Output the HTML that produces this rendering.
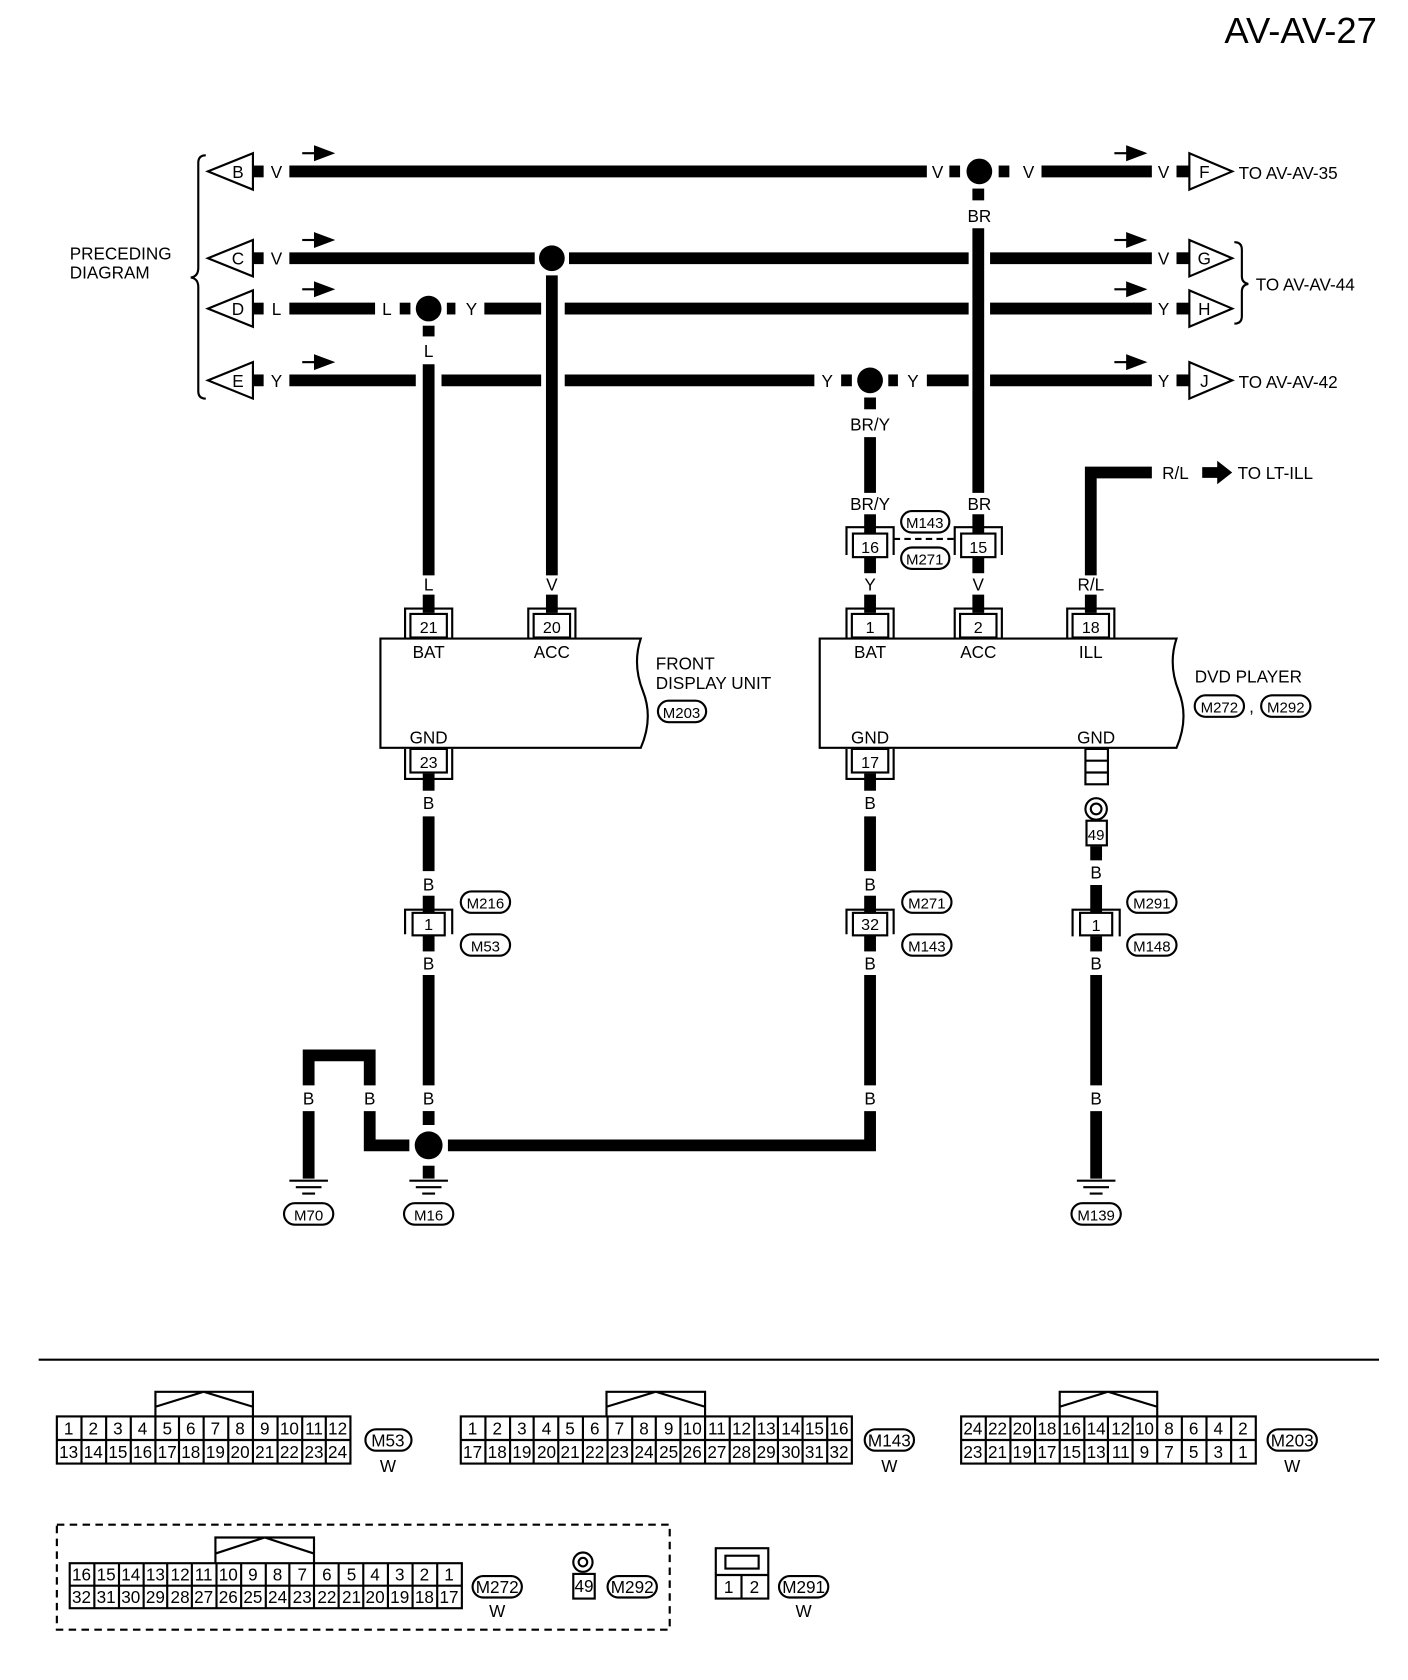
<!DOCTYPE html>
<html><head><meta charset="utf-8"><style>
html,body{margin:0;padding:0;background:#fff;}
svg{display:block;}
text{font-family:"Liberation Sans",Arial,sans-serif;font-size:16px;fill:#000;}
.c{text-anchor:middle;}
.n{font-size:15px;text-anchor:middle;}
.s{font-size:14px;text-anchor:middle;}
</style></head><body>
<svg width="1408" height="1680" viewBox="0 0 1314 1568" xmlns="http://www.w3.org/2000/svg">
<rect width="1314" height="1568" fill="#fff"/>
<text x="1285" y="40" style="font-size:34px;text-anchor:end">AV-AV-27</text>

<path d="M192,145 Q185,145 185,152 V250 Q185,258 178,259 Q185,260 185,268 V365 Q185,372 192,372" fill="none" stroke="#000" stroke-width="2"/>
<text x="65" y="242">PRECEDING</text><text x="65" y="260">DIAGRAM</text>
<path d="M1152,226 Q1159,226 1159,233 V258 Q1159,264 1165,265 Q1159,266 1159,272 V295 Q1159,302 1152,302" fill="none" stroke="#000" stroke-width="2"/>
<text x="1172" y="271">TO AV-AV-44</text>

<g fill="none" stroke="#000" stroke-width="2">
<polygon points="194,160 236,143 236,177"/><polygon points="194,241 236,224 236,258"/>
<polygon points="194,288 236,271 236,305"/><polygon points="194,355 236,338 236,372"/>
<polygon points="1110,143 1150,160 1110,177"/><polygon points="1110,224 1150,241 1110,258"/>
<polygon points="1110,271 1150,288 1110,305"/><polygon points="1110,338 1150,355 1110,372"/>
</g>
<text x="222" y="166" class="c">B</text><text x="222" y="247" class="c">C</text><text x="222" y="294" class="c">D</text><text x="222" y="361" class="c">E</text>
<text x="1124" y="166" class="c">F</text><text x="1124" y="247" class="c">G</text><text x="1124" y="294" class="c">H</text><text x="1124" y="361" class="c">J</text>
<text x="1156" y="167">TO AV-AV-35</text><text x="1156" y="362">TO AV-AV-42</text>

<g stroke="#000" stroke-width="2" fill="#000">
<line x1="282" y1="143" x2="296" y2="143"/><polygon points="294,137 310,143 294,149"/>
<line x1="282" y1="224" x2="296" y2="224"/><polygon points="294,218 310,224 294,230"/>
<line x1="282" y1="270" x2="296" y2="270"/><polygon points="294,264 310,270 294,276"/>
<line x1="282" y1="338" x2="296" y2="338"/><polygon points="294,332 310,338 294,344"/>
<line x1="1040" y1="143" x2="1054" y2="143"/><polygon points="1052,137 1068,143 1052,149"/>
<line x1="1040" y1="224" x2="1054" y2="224"/><polygon points="1052,218 1068,224 1052,230"/>
<line x1="1040" y1="270" x2="1054" y2="270"/><polygon points="1052,264 1068,270 1052,276"/>
<line x1="1040" y1="338" x2="1054" y2="338"/><polygon points="1052,332 1068,338 1052,344"/>
</g>

<g stroke="#000" stroke-width="11" fill="none">
<line x1="236" y1="160" x2="246" y2="160"/><line x1="236" y1="241" x2="246" y2="241"/>
<line x1="236" y1="288" x2="246" y2="288"/><line x1="236" y1="355" x2="246" y2="355"/>
<line x1="1098" y1="160" x2="1110" y2="160"/><line x1="1098" y1="241" x2="1110" y2="241"/>
<line x1="1098" y1="288" x2="1110" y2="288"/><line x1="1098" y1="355" x2="1110" y2="355"/>
<line x1="270" y1="160" x2="865" y2="160"/><line x1="886" y1="160" x2="896" y2="160"/>
<line x1="932" y1="160" x2="942" y2="160"/><line x1="972" y1="160" x2="1075" y2="160"/>
<line x1="270" y1="241" x2="499" y2="241"/><line x1="531" y1="241" x2="904" y2="241"/><line x1="924" y1="241" x2="1075" y2="241"/>
<line x1="270" y1="288" x2="350" y2="288"/><line x1="373" y1="288" x2="383" y2="288"/>
<line x1="417" y1="288" x2="425" y2="288"/><line x1="452" y1="288" x2="505" y2="288"/>
<line x1="527" y1="288" x2="904" y2="288"/><line x1="924" y1="288" x2="1075" y2="288"/>
<line x1="270" y1="355" x2="388" y2="355"/><line x1="412" y1="355" x2="505" y2="355"/>
<line x1="527" y1="355" x2="760" y2="355"/><line x1="785" y1="355" x2="795" y2="355"/>
<line x1="829" y1="355" x2="838" y2="355"/><line x1="865" y1="355" x2="904" y2="355"/>
<line x1="924" y1="355" x2="1075" y2="355"/>
<line x1="400" y1="304" x2="400" y2="314"/><line x1="400" y1="340" x2="400" y2="537"/><line x1="400" y1="555" x2="400" y2="572"/>
<line x1="515" y1="257" x2="515" y2="537"/><line x1="515" y1="555" x2="515" y2="572"/>
<line x1="812" y1="371" x2="812" y2="382"/><line x1="812" y1="408" x2="812" y2="460"/><line x1="812" y1="480" x2="812" y2="498"/><line x1="812" y1="520" x2="812" y2="535"/><line x1="812" y1="555" x2="812" y2="572"/>
<line x1="913" y1="176" x2="913" y2="187"/><line x1="913" y1="213" x2="913" y2="460"/><line x1="913" y1="480" x2="913" y2="498"/><line x1="913" y1="520" x2="913" y2="535"/><line x1="913" y1="555" x2="913" y2="572"/>
<polyline points="1075,441 1018,441 1018,537"/><line x1="1018" y1="555" x2="1018" y2="572"/>
<line x1="400" y1="722" x2="400" y2="738"/><line x1="400" y1="762" x2="400" y2="813"/><line x1="400" y1="836" x2="400" y2="852"/><line x1="400" y1="872" x2="400" y2="888"/><line x1="400" y1="910" x2="400" y2="1013"/><line x1="400" y1="1037" x2="400" y2="1050"/><line x1="400" y1="1088" x2="400" y2="1100"/>
<line x1="812" y1="722" x2="812" y2="738"/><line x1="812" y1="762" x2="812" y2="813"/><line x1="812" y1="836" x2="812" y2="852"/><line x1="812" y1="872" x2="812" y2="888"/><line x1="812" y1="910" x2="812" y2="1013"/>
<polyline points="812,1037 812,1069 418,1069"/>
<polyline points="288,1013 288,985 345,985 345,1013"/><polyline points="345,1037 345,1069 382,1069"/>
<line x1="288" y1="1037" x2="288" y2="1100"/>
<line x1="1023" y1="790" x2="1023" y2="803"/><line x1="1023" y1="826" x2="1023" y2="852"/><line x1="1023" y1="874" x2="1023" y2="888"/><line x1="1023" y1="910" x2="1023" y2="1013"/><line x1="1023" y1="1037" x2="1023" y2="1100"/>
</g>

<g fill="#000"><circle cx="914" cy="160" r="12"/><circle cx="515" cy="241" r="12"/><circle cx="400" cy="288" r="12"/><circle cx="812" cy="355" r="12"/><circle cx="400" cy="1069" r="13"/></g>

<text x="258" y="166" class="c">V</text><text x="875" y="166" class="c">V</text><text x="960" y="166" class="c">V</text><text x="1086" y="166" class="c">V</text>
<text x="258" y="247" class="c">V</text><text x="1086" y="247" class="c">V</text>
<text x="258" y="294" class="c">L</text><text x="361" y="294" class="c">L</text><text x="440" y="294" class="c">Y</text><text x="1086" y="294" class="c">Y</text>
<text x="258" y="361" class="c">Y</text><text x="772" y="361" class="c">Y</text><text x="852" y="361" class="c">Y</text><text x="1086" y="361" class="c">Y</text>
<text x="914" y="207" class="c">BR</text><text x="400" y="333" class="c">L</text><text x="812" y="402" class="c">BR/Y</text>
<text x="812" y="476" class="c">BR/Y</text><text x="914" y="476" class="c">BR</text>
<text x="1097" y="447" class="c">R/L</text>
<polygon points="1122,436 1136,436 1136,430 1150,441 1136,452 1136,446 1122,446" fill="#000"/>
<text x="1155" y="447">TO LT-ILL</text>
<text x="400" y="551" class="c">L</text><text x="515" y="551" class="c">V</text><text x="812" y="551" class="c">Y</text><text x="913" y="551" class="c">V</text><text x="1018" y="551" class="c">R/L</text>
<text x="400" y="755" class="c">B</text><text x="400" y="831" class="c">B</text><text x="400" y="905" class="c">B</text><text x="400" y="1031" class="c">B</text>
<text x="812" y="755" class="c">B</text><text x="812" y="831" class="c">B</text><text x="812" y="905" class="c">B</text><text x="812" y="1031" class="c">B</text>
<text x="1023" y="820" class="c">B</text><text x="1023" y="905" class="c">B</text><text x="1023" y="1031" class="c">B</text>
<text x="288" y="1031" class="c">B</text><text x="345" y="1031" class="c">B</text>

<g fill="#fff" stroke="#000" stroke-width="2">
<path d="M378,596 V568 H422 V596" fill="none"/><rect x="383" y="573" width="34" height="22"/>
<path d="M493,596 V568 H537 V596" fill="none"/><rect x="498" y="573" width="34" height="22"/>
<path d="M790,596 V568 H834 V596" fill="none"/><rect x="795" y="573" width="34" height="22"/>
<path d="M891,596 V568 H935 V596" fill="none"/><rect x="896" y="573" width="34" height="22"/>
<path d="M996,596 V568 H1040 V596" fill="none"/><rect x="1001" y="573" width="34" height="22"/>
<path d="M790,518 V492 H834 V518" fill="none"/><rect x="796" y="498" width="32" height="22"/>
<path d="M891,518 V492 H935 V518" fill="none"/><rect x="897" y="498" width="32" height="22"/>
<path d="M378,699 V727 H422 V699" fill="none"/><rect x="383" y="699" width="34" height="22"/>
<path d="M790,699 V727 H834 V699" fill="none"/><rect x="795" y="699" width="34" height="22"/>
<path d="M378,872 V849 H422 V872" fill="none"/><rect x="385" y="852" width="30" height="21"/>
<path d="M790,872 V849 H834 V872" fill="none"/><rect x="796" y="852" width="32" height="21"/>
<path d="M1001,874 V849 H1045 V874" fill="none"/><rect x="1008" y="852" width="30" height="21"/>
<rect x="1013" y="699" width="21" height="33"/><line x1="1013" y1="710" x2="1034" y2="710"/><line x1="1013" y1="721" x2="1034" y2="721"/>
<circle cx="1023" cy="755" r="10"/><circle cx="1023" cy="755" r="5"/>
<rect x="1014" y="766" width="19" height="23"/>
</g>
<line x1="834" y1="503" x2="891" y2="503" stroke="#000" stroke-width="2" stroke-dasharray="6,4"/>
<text x="400" y="591" class="n">21</text><text x="515" y="591" class="n">20</text><text x="812" y="591" class="n">1</text><text x="913" y="591" class="n">2</text><text x="1018" y="591" class="n">18</text>
<text x="812" y="516" class="n">16</text><text x="913" y="516" class="n">15</text>
<text x="400" y="717" class="n">23</text><text x="812" y="717" class="n">17</text>
<text x="400" y="868" class="n">1</text><text x="812" y="868" class="n">32</text><text x="1023" y="869" class="n">1</text>
<text x="1023" y="784" class="s">49</text>

<path d="M355,596 H598 Q590,620 600,645 Q610,670 598,698 H355 Z" fill="none" stroke="#000" stroke-width="2"/>
<path d="M765,596 H1098 Q1090,620 1100,645 Q1110,670 1098,698 H765 Z" fill="none" stroke="#000" stroke-width="2"/>
<text x="400" y="614" class="c">BAT</text><text x="515" y="614" class="c">ACC</text><text x="400" y="694" class="c">GND</text>
<text x="812" y="614" class="c">BAT</text><text x="913" y="614" class="c">ACC</text><text x="1018" y="614" class="c">ILL</text>
<text x="812" y="694" class="c">GND</text><text x="1023" y="694" class="c">GND</text>
<text x="612" y="625">FRONT</text><text x="612" y="643">DISPLAY UNIT</text>
<text x="1115" y="637">DVD PLAYER</text>
<text x="1168" y="665" class="c">,</text>

<g fill="#fff" stroke="#000" stroke-width="2">
<rect x="614" y="654" width="45" height="20" rx="10"/>
<rect x="1115" y="649" width="46" height="20" rx="10"/><rect x="1177" y="649" width="46" height="20" rx="10"/>
<rect x="841" y="477" width="45" height="20" rx="10"/><rect x="841" y="511" width="45" height="20" rx="10"/>
<rect x="430" y="832" width="46" height="20" rx="10"/><rect x="430" y="872" width="46" height="20" rx="10"/>
<rect x="842" y="832" width="46" height="20" rx="10"/><rect x="842" y="872" width="46" height="20" rx="10"/>
<rect x="1052" y="832" width="46" height="20" rx="10"/><rect x="1052" y="872" width="46" height="20" rx="10"/>
<rect x="265" y="1123" width="46" height="20" rx="10"/><rect x="377" y="1123" width="46" height="20" rx="10"/><rect x="1000" y="1123" width="46" height="20" rx="10"/>
</g>
<text x="636" y="670" class="s">M203</text>
<text x="1138" y="665" class="s">M272</text><text x="1200" y="665" class="s">M292</text>
<text x="863" y="493" class="s">M143</text><text x="863" y="527" class="s">M271</text>
<text x="453" y="848" class="s">M216</text><text x="453" y="888" class="s">M53</text>
<text x="865" y="848" class="s">M271</text><text x="865" y="888" class="s">M143</text>
<text x="1075" y="848" class="s">M291</text><text x="1075" y="888" class="s">M148</text>
<text x="288" y="1139" class="s">M70</text><text x="400" y="1139" class="s">M16</text><text x="1023" y="1139" class="s">M139</text>

<g stroke="#000" stroke-width="2">
<line x1="270" y1="1102" x2="306" y2="1102"/><line x1="276" y1="1108" x2="300" y2="1108"/><line x1="282" y1="1114" x2="294" y2="1114"/>
<line x1="382" y1="1102" x2="418" y2="1102"/><line x1="388" y1="1108" x2="412" y2="1108"/><line x1="394" y1="1114" x2="406" y2="1114"/>
<line x1="1005" y1="1102" x2="1041" y2="1102"/><line x1="1011" y1="1108" x2="1035" y2="1108"/><line x1="1017" y1="1114" x2="1029" y2="1114"/>
</g>

<line x1="36" y1="1269" x2="1287" y2="1269" stroke="#000" stroke-width="2"/>

<g fill="none" stroke="#000" stroke-width="2">
<rect x="53" y="1322" width="274" height="44"/><line x1="53" y1="1344" x2="327" y2="1344"/>
<path d="M145,1322 V1299 H236 V1322 M145,1313 L190,1299 L236,1313"/>
<path d="M76,1322V1366M99,1322V1366M122,1322V1366M145,1322V1366M167,1322V1366M190,1322V1366M213,1322V1366M236,1322V1366M259,1322V1366M282,1322V1366M304,1322V1366"/>
<rect x="430" y="1322" width="365" height="44"/><line x1="430" y1="1344" x2="795" y2="1344"/>
<path d="M566,1322 V1299 H658 V1322 M566,1313 L612,1299 L658,1313"/>
<path d="M453,1322V1366M476,1322V1366M498,1322V1366M521,1322V1366M544,1322V1366M567,1322V1366M590,1322V1366M612,1322V1366M635,1322V1366M658,1322V1366M681,1322V1366M704,1322V1366M726,1322V1366M749,1322V1366M772,1322V1366"/>
<rect x="897" y="1322" width="275" height="44"/><line x1="897" y1="1344" x2="1172" y2="1344"/>
<path d="M989,1322 V1299 H1080 V1322 M989,1313 L1034,1299 L1080,1313"/>
<path d="M920,1322V1366M943,1322V1366M966,1322V1366M989,1322V1366M1012,1322V1366M1034,1322V1366M1057,1322V1366M1080,1322V1366M1103,1322V1366M1126,1322V1366M1149,1322V1366"/>
<rect x="65" y="1459" width="366" height="42"/><line x1="65" y1="1480" x2="431" y2="1480"/>
<path d="M201,1459 V1435 H293 V1459 M201,1450 L247,1435 L293,1450"/>
<path d="M88,1459V1501M111,1459V1501M134,1459V1501M156,1459V1501M179,1459V1501M202,1459V1501M225,1459V1501M248,1459V1501M270,1459V1501M293,1459V1501M316,1459V1501M339,1459V1501M362,1459V1501M385,1459V1501M408,1459V1501"/>
<rect x="53" y="1423" width="572" height="98" stroke-dasharray="7,5"/>
<circle cx="544" cy="1458" r="9"/><circle cx="544" cy="1458" r="4"/>
<rect x="535" y="1469" width="20" height="23"/>
<rect x="668" y="1445" width="49" height="47"/><rect x="677" y="1452" width="31" height="12"/>
<line x1="668" y1="1470" x2="717" y2="1470"/><line x1="692" y1="1470" x2="692" y2="1492"/>
<rect x="341" y="1334" width="43" height="20" rx="10"/><rect x="807" y="1334" width="46" height="20" rx="10"/><rect x="1183" y="1334" width="46" height="20" rx="10"/>
<rect x="441" y="1471" width="46" height="20" rx="10"/><rect x="567" y="1471" width="46" height="20" rx="10"/><rect x="727" y="1471" width="46" height="20" rx="10"/>
</g>
<g style="font-size:14px;text-anchor:middle">
<text x="64" y="1339">1</text><text x="87" y="1339">2</text><text x="110" y="1339">3</text><text x="133" y="1339">4</text><text x="156" y="1339">5</text><text x="178" y="1339">6</text><text x="201" y="1339">7</text><text x="224" y="1339">8</text><text x="247" y="1339">9</text><text x="270" y="1339">10</text><text x="293" y="1339">11</text><text x="315" y="1339">12</text>
<text x="64" y="1361">13</text><text x="87" y="1361">14</text><text x="110" y="1361">15</text><text x="133" y="1361">16</text><text x="156" y="1361">17</text><text x="178" y="1361">18</text><text x="201" y="1361">19</text><text x="224" y="1361">20</text><text x="247" y="1361">21</text><text x="270" y="1361">22</text><text x="293" y="1361">23</text><text x="315" y="1361">24</text>
<text x="441" y="1339">1</text><text x="464" y="1339">2</text><text x="487" y="1339">3</text><text x="510" y="1339">4</text><text x="532" y="1339">5</text><text x="555" y="1339">6</text><text x="578" y="1339">7</text><text x="601" y="1339">8</text><text x="624" y="1339">9</text><text x="646" y="1339">10</text><text x="669" y="1339">11</text><text x="692" y="1339">12</text><text x="715" y="1339">13</text><text x="738" y="1339">14</text><text x="760" y="1339">15</text><text x="783" y="1339">16</text>
<text x="441" y="1361">17</text><text x="464" y="1361">18</text><text x="487" y="1361">19</text><text x="510" y="1361">20</text><text x="532" y="1361">21</text><text x="555" y="1361">22</text><text x="578" y="1361">23</text><text x="601" y="1361">24</text><text x="624" y="1361">25</text><text x="646" y="1361">26</text><text x="669" y="1361">27</text><text x="692" y="1361">28</text><text x="715" y="1361">29</text><text x="738" y="1361">30</text><text x="760" y="1361">31</text><text x="783" y="1361">32</text>
<text x="908" y="1339">24</text><text x="931" y="1339">22</text><text x="954" y="1339">20</text><text x="977" y="1339">18</text><text x="1000" y="1339">16</text><text x="1023" y="1339">14</text><text x="1046" y="1339">12</text><text x="1068" y="1339">10</text><text x="1091" y="1339">8</text><text x="1114" y="1339">6</text><text x="1137" y="1339">4</text><text x="1160" y="1339">2</text>
<text x="908" y="1361">23</text><text x="931" y="1361">21</text><text x="954" y="1361">19</text><text x="977" y="1361">17</text><text x="1000" y="1361">15</text><text x="1023" y="1361">13</text><text x="1046" y="1361">11</text><text x="1068" y="1361">9</text><text x="1091" y="1361">7</text><text x="1114" y="1361">5</text><text x="1137" y="1361">3</text><text x="1160" y="1361">1</text>
<text x="76" y="1475">16</text><text x="99" y="1475">15</text><text x="122" y="1475">14</text><text x="145" y="1475">13</text><text x="168" y="1475">12</text><text x="190" y="1475">11</text><text x="213" y="1475">10</text><text x="236" y="1475">9</text><text x="259" y="1475">8</text><text x="282" y="1475">7</text><text x="305" y="1475">6</text><text x="328" y="1475">5</text><text x="350" y="1475">4</text><text x="373" y="1475">3</text><text x="396" y="1475">2</text><text x="419" y="1475">1</text>
<text x="76" y="1496">32</text><text x="99" y="1496">31</text><text x="122" y="1496">30</text><text x="145" y="1496">29</text><text x="168" y="1496">28</text><text x="190" y="1496">27</text><text x="213" y="1496">26</text><text x="236" y="1496">25</text><text x="259" y="1496">24</text><text x="282" y="1496">23</text><text x="305" y="1496">22</text><text x="328" y="1496">21</text><text x="350" y="1496">20</text><text x="373" y="1496">19</text><text x="396" y="1496">18</text><text x="419" y="1496">17</text>
<text x="545" y="1486">49</text>
<text x="680" y="1487">1</text><text x="704" y="1487">2</text>
<text x="362" y="1350">M53</text><text x="830" y="1350">M143</text><text x="1206" y="1350">M203</text>
<text x="464" y="1487">M272</text><text x="590" y="1487">M292</text><text x="750" y="1487">M291</text>
</g>
<text x="362" y="1374" class="c">W</text><text x="830" y="1374" class="c">W</text><text x="1206" y="1374" class="c">W</text>
<text x="464" y="1509" class="c">W</text><text x="750" y="1509" class="c">W</text>
</svg>
</body></html>
